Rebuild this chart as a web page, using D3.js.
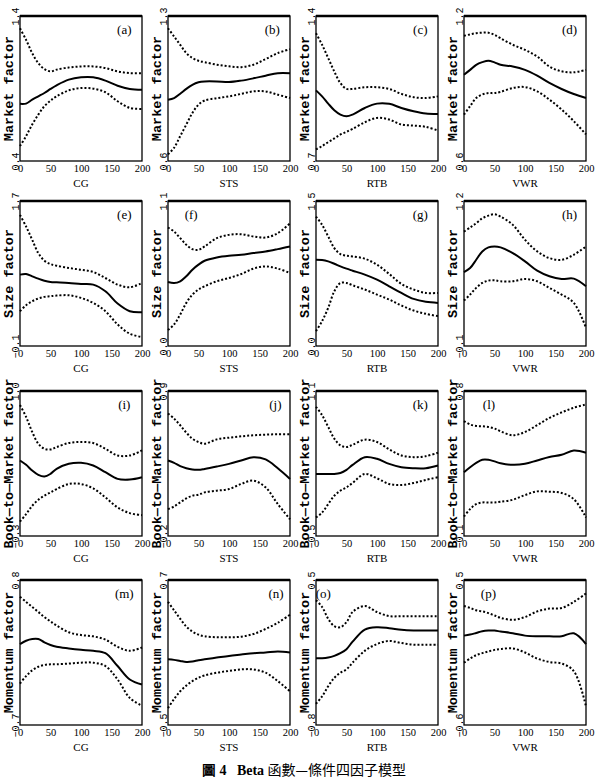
<!DOCTYPE html>
<html>
<head>
<meta charset="utf-8">
<script src="https://cdn.jsdelivr.net/npm/d3@7"></script>
<style>
  body { margin: 0; background: #fff; }
  svg { display: block; }
  .tick-lbl { font-family: "Liberation Serif", serif; font-size: 10.5px; fill: #000; }
  .ytick-lbl { font-family: "Liberation Mono", monospace; font-size: 10px; fill: #000; }
  .x-title { font-family: "Liberation Serif", serif; font-size: 11px; }
  .y-title { font-family: "Liberation Mono", monospace; font-size: 13.5px; font-weight: bold; }
  .panel-lbl { font-family: "Liberation Serif", serif; font-size: 13px; }
</style>
</head>
<body>
<svg id="chart" width="596" height="782"></svg>
<script>
// grid points along the x axis (same for every panel)
const xs = [0, 10, 20, 30, 40, 50, 60, 80, 100, 120, 140, 160, 180, 200];

const panelIds = ["a","b","c","d","e","f","g","h","i","j","k","l","m","n","o","p"];
const xTitles = ["CG", "STS", "RTB", "VWR"];
const yTitles = ["Market factor", "Size factor", "Book\u2014to\u2014Market factor", "Momentum factor"];
const xTicks = [0, 50, 100, 150, 200];

// y axis limits [min, max] per panel
const yLimits = [
  [0.4, 1.4], [0.6, 1.3], [0.7, 1.4], [0.6, 1.2],
  [-0.1, 1.7], [0.0, 1.1], [0.0, 1.5], [-0.1, 1.2],
  [-0.3, 1.0], [-0.2, 0.9], [-0.5, 1.1], [-0.1, 0.8],
  [-0.7, 0.8], [-0.5, 0.7], [-0.8, 0.5], [-0.6, 0.5]
];

// upper band, beta estimate, lower band
const upper = [
  [1.315,1.235,1.144,1.075,1.034,1.018,1.030,1.045,1.052,1.052,1.041,1.018,1.006,1.006],
  [1.241,1.201,1.161,1.121,1.097,1.084,1.077,1.065,1.057,1.053,1.065,1.092,1.121,1.140],
  [1.317,1.261,1.197,1.132,1.076,1.048,1.048,1.056,1.056,1.048,1.024,1.008,1.004,1.012],
  [1.118,1.124,1.129,1.131,1.131,1.122,1.108,1.081,1.060,1.032,0.991,0.971,0.967,0.977],
  [1.527,1.383,1.218,1.053,0.959,0.917,0.897,0.868,0.847,0.819,0.744,0.662,0.629,0.683],
  [0.899,0.868,0.818,0.768,0.735,0.730,0.755,0.818,0.843,0.848,0.831,0.823,0.856,0.931],
  [1.339,1.253,1.133,1.013,0.951,0.934,0.927,0.903,0.841,0.745,0.642,0.584,0.549,0.549],
  [0.926,0.962,1.001,1.045,1.069,1.081,1.060,0.986,0.852,0.748,0.688,0.673,0.718,0.792],
  [0.874,0.768,0.633,0.528,0.482,0.476,0.497,0.534,0.543,0.534,0.482,0.422,0.422,0.467],
  [0.729,0.691,0.640,0.584,0.538,0.513,0.500,0.533,0.546,0.556,0.564,0.569,0.572,0.572],
  [0.926,0.833,0.704,0.574,0.500,0.481,0.507,0.563,0.537,0.456,0.389,0.370,0.381,0.419],
  [0.613,0.592,0.583,0.581,0.577,0.567,0.550,0.525,0.546,0.588,0.633,0.667,0.696,0.717],
  [0.626,0.573,0.521,0.469,0.416,0.371,0.329,0.259,0.231,0.217,0.183,0.109,0.067,0.102],
  [0.519,0.449,0.379,0.315,0.273,0.248,0.234,0.226,0.226,0.231,0.253,0.295,0.346,0.413],
  [0.319,0.258,0.152,0.086,0.077,0.122,0.213,0.267,0.213,0.176,0.176,0.176,0.176,0.176],
  [0.303,0.288,0.270,0.262,0.249,0.231,0.213,0.198,0.219,0.262,0.283,0.288,0.334,0.398]
];
const beta = [
  [0.794,0.796,0.823,0.846,0.869,0.897,0.922,0.961,0.977,0.977,0.954,0.919,0.897,0.892],
  [0.896,0.904,0.925,0.948,0.968,0.980,0.984,0.984,0.981,0.988,0.999,1.012,1.024,1.024],
  [1.041,1.012,0.977,0.945,0.924,0.916,0.924,0.956,0.977,0.976,0.956,0.940,0.929,0.927],
  [0.957,0.977,0.998,1.009,1.015,1.008,0.998,0.991,0.977,0.953,0.923,0.898,0.877,0.861],
  [0.786,0.794,0.765,0.736,0.711,0.695,0.691,0.683,0.670,0.662,0.580,0.427,0.332,0.320],
  [0.486,0.478,0.491,0.529,0.579,0.617,0.647,0.672,0.685,0.692,0.705,0.717,0.735,0.755],
  [0.892,0.889,0.875,0.851,0.824,0.800,0.779,0.738,0.686,0.618,0.549,0.487,0.457,0.446],
  [0.563,0.599,0.673,0.748,0.784,0.792,0.784,0.733,0.659,0.575,0.525,0.501,0.504,0.435],
  [0.377,0.338,0.287,0.248,0.233,0.257,0.302,0.347,0.356,0.332,0.272,0.212,0.206,0.227],
  [0.373,0.355,0.330,0.314,0.304,0.302,0.309,0.327,0.347,0.373,0.398,0.381,0.314,0.233],
  [0.185,0.185,0.185,0.185,0.196,0.230,0.285,0.370,0.352,0.296,0.259,0.248,0.248,0.278],
  [0.296,0.327,0.354,0.373,0.373,0.363,0.352,0.342,0.348,0.369,0.390,0.404,0.431,0.417],
  [0.137,0.172,0.190,0.190,0.155,0.127,0.109,0.092,0.078,0.067,0.043,-0.090,-0.229,-0.281],
  [0.044,0.039,0.030,0.022,0.025,0.036,0.044,0.058,0.072,0.083,0.094,0.100,0.108,0.100],
  [-0.201,-0.201,-0.195,-0.180,-0.156,-0.120,-0.053,0.056,0.077,0.068,0.053,0.047,0.047,0.047],
  [0.078,0.086,0.098,0.111,0.116,0.116,0.109,0.096,0.078,0.073,0.073,0.073,0.096,0.014]
];
const lower = [
  [0.503,0.572,0.652,0.720,0.778,0.816,0.846,0.887,0.903,0.899,0.874,0.812,0.766,0.759],
  [0.632,0.664,0.720,0.776,0.832,0.872,0.892,0.903,0.912,0.924,0.936,0.936,0.920,0.904],
  [0.756,0.772,0.791,0.809,0.828,0.841,0.855,0.887,0.908,0.900,0.876,0.871,0.865,0.847],
  [0.792,0.827,0.861,0.875,0.881,0.881,0.886,0.902,0.906,0.888,0.854,0.813,0.765,0.710],
  [0.332,0.407,0.456,0.489,0.510,0.518,0.526,0.530,0.497,0.435,0.332,0.168,0.052,0.011],
  [0.121,0.164,0.239,0.327,0.390,0.428,0.453,0.491,0.516,0.546,0.587,0.604,0.587,0.554],
  [0.154,0.257,0.395,0.566,0.652,0.652,0.628,0.584,0.532,0.481,0.419,0.367,0.333,0.309],
  [0.308,0.361,0.421,0.465,0.486,0.489,0.480,0.480,0.501,0.480,0.421,0.361,0.287,0.064],
  [-0.171,-0.104,-0.029,0.025,0.061,0.091,0.121,0.166,0.166,0.127,0.046,-0.044,-0.095,-0.113],
  [0.004,0.024,0.055,0.085,0.106,0.113,0.131,0.144,0.156,0.195,0.220,0.169,0.042,-0.073],
  [-0.296,-0.241,-0.148,-0.056,0.000,0.037,0.085,0.185,0.137,0.074,0.063,0.085,0.119,0.148],
  [0.021,0.067,0.098,0.108,0.108,0.108,0.113,0.125,0.154,0.177,0.175,0.167,0.129,0.015],
  [-0.271,-0.194,-0.135,-0.097,-0.079,-0.072,-0.072,-0.065,-0.055,-0.055,-0.090,-0.229,-0.421,-0.501],
  [-0.360,-0.285,-0.221,-0.174,-0.137,-0.109,-0.090,-0.067,-0.053,-0.040,-0.040,-0.067,-0.137,-0.221],
  [-0.610,-0.543,-0.452,-0.377,-0.331,-0.301,-0.241,-0.135,-0.074,-0.047,-0.065,-0.080,-0.080,-0.080],
  [-0.127,-0.096,-0.070,-0.055,-0.042,-0.030,-0.024,-0.019,-0.050,-0.096,-0.122,-0.134,-0.191,-0.459]
];

// where each panel letter sits, in x-data units
const letterAt = [171,171,171,173, 171,38,171,173, 171,176,171,41, 171,177,12,40];

// layout
const colLeft = [20, 168, 316, 464];
const rowTop = [16, 201, 391, 580];
const pw = 122, ph = 145;

const svg = d3.select("#chart");

panelIds.forEach((id, i) => {
    const r = Math.floor(i / 4), c = i % 4;
    const g = svg.append("g")
        .attr("transform", `translate(${colLeft[c]},${rowTop[r]})`);

    const x = d3.scaleLinear().domain([0, 200]).range([0, pw]);
    const y = d3.scaleLinear().domain(yLimits[i]).range([ph, 0]);

    const line = d3.line()
        .x(d => x(d[0]))
        .y(d => y(d[1]))
        .curve(d3.curveCatmullRom.alpha(0.5));

    const series = [
        { vals: upper[i], dash: "2,2", w: 2 },
        { vals: lower[i], dash: "2,2", w: 2 },
        { vals: beta[i], dash: null, w: 2 }
    ];
    series.forEach(s => {
        g.append("path")
            .datum(xs.map((xv, k) => [xv, s.vals[k]]))
            .attr("d", line)
            .attr("fill", "none")
            .attr("stroke", "#000")
            .attr("stroke-width", s.w)
            .attr("stroke-dasharray", s.dash);
    });

    // frame
    g.append("rect")
        .attr("width", pw).attr("height", ph)
        .attr("fill", "none").attr("stroke", "#000").attr("stroke-width", 1.3);
    g.append("line")
        .attr("x1", 0).attr("x2", pw).attr("y1", 0).attr("y2", 0)
        .attr("stroke", "#000").attr("stroke-width", 2.6);

    // x axis labels
    const xa = g.append("g")
        .attr("transform", `translate(0,${ph})`)
        .call(d3.axisBottom(x).tickValues(xTicks).tickSize(0).tickPadding(4));
    xa.select(".domain").remove();
    xa.selectAll("text").attr("class", "tick-lbl").attr("font-family", null).attr("font-size", null);

    g.append("text")
        .attr("class", "x-title")
        .attr("x", pw / 2).attr("y", ph + 26)
        .attr("text-anchor", "middle")
        .text(xTitles[c]);

    // y axis: only the limits, rotated
    const ya = g.append("g")
        .call(d3.axisLeft(y).tickValues(yLimits[i]).tickSize(0));
    ya.select(".domain").remove();
    ya.selectAll("text")
        .attr("class", "ytick-lbl")
        .attr("font-family", null).attr("font-size", null)
        .attr("x", null).attr("dy", null)
        .attr("text-anchor", "middle")
        .attr("transform", "translate(-1,0) rotate(-90)")
        .text(d => d3.format(".1f")(d).replace("-", "\u2212"));

    g.append("text")
        .attr("class", "y-title")
        .attr("transform", `translate(-11,${ph / 2}) rotate(-90)`)
        .attr("text-anchor", "middle")
        .attr("dominant-baseline", "central")
        .text(yTitles[r]);

    g.append("text")
        .attr("class", "panel-lbl")
        .attr("x", x(letterAt[i])).attr("y", 18)
        .attr("text-anchor", "middle")
        .text(`(${id})`);
});

// caption
const cap = svg.append("text")
    .attr("x", 304).attr("y", 775)
    .attr("text-anchor", "middle")
    .attr("font-size", 14);
cap.append("tspan").attr("font-family", "Liberation Serif").attr("font-weight", "bold").text("\u5716 4\u00a0\u00a0\u00a0Beta ");
cap.append("tspan").attr("font-family", "Noto Sans CJK TC").text("\u51fd\u6578\u2014\u689d\u4ef6\u56db\u56e0\u5b50\u6a21\u578b");
</script>
</body>
</html>
